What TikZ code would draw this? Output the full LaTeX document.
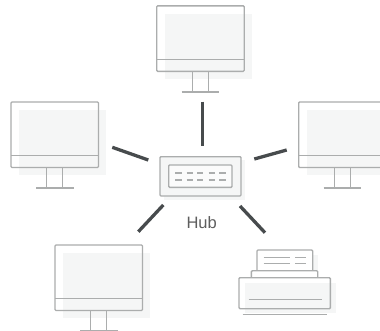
\documentclass[tikz,border=0pt]{standalone}
\usepackage{fontspec}
\setmainfont{Liberation Sans}
\definecolor{ln}{HTML}{ABADAD}
\definecolor{shade}{HTML}{F5F6F6}
\definecolor{link}{HTML}{474B4D}
\definecolor{txt}{HTML}{5E5E5E}
\tikzset{
  x=1pt,y=-1pt,
  outline/.style={draw=ln,line width=1.4pt,rounded corners=1pt},
  thin line/.style={draw=ln,line width=1.4pt},
  shadow/.style={fill=shade,draw=none},
  linkline/.style={draw=link,line width=3.3pt},
  monitor/.pic={
    % origin: top-left corner of the screen
    \fill[shadow] (8,8) rectangle (95,73);
    \draw[outline] (0,0) rectangle (87.5,65.5);
    \draw[thin line] (0,53.5) -- (87.5,53.5);
    \draw[thin line] (35.7,65.5) -- (35.7,86) (51.5,65.5) -- (51.5,86);
    \draw[thin line] (25,86) -- (62.5,86);
  }
}
\begin{document}
\begin{tikzpicture}
\useasboundingbox (0,0) rectangle (380,330);
\clip (0,0) rectangle (380,330);
\fill[white] (0,0) rectangle (380,330);
% monitors
\pic at (156.7,5.8) {monitor};
\pic at (11,102) {monitor};
\pic at (298.7,102) {monitor};
\pic at (55,245) {monitor};
% hub
\fill[shadow] (164,160) rectangle (245,200);
\draw[outline,fill=shade] (160,156.7) rectangle (241,196);
\draw[outline,fill=white!60!shade] (168.7,165) rectangle (232,187.3);
\foreach \yy in {172.7,179.7}
  \foreach \xx in {175.3,186.7,197,208.7,219.3}
    \draw[draw=ln,line width=2.4pt] (\xx,\yy) -- ++(6.4,0);
\node[text=txt,font=\fontsize{16.5}{16.5}\selectfont,inner sep=0pt] (hub) at (201.7,222.6) {Hub};
% printer
\fill[shadow] (245,283) rectangle (336,313);
\fill[shadow] (262,255) rectangle (318,271);
\draw[outline,fill=white] (257,270.7) -- (257,250) -- (312.7,250) -- (312.7,270.7);
\draw[thin line] (263.7,257.3) -- (290,257.3) (295.3,257.3) -- (305.7,257.3);
\draw[thin line] (263.7,263.3) -- (290,263.3) (295.3,263.3) -- (305.7,263.3);
\draw[outline] (251.3,277.7) -- (251.3,270.7) -- (317.7,270.7) -- (317.7,277.7);
\draw[outline] (239,277.7) rectangle (330.3,308.7);
\draw[thin line] (248.7,299.3) -- (322,299.3);
\draw[thin line] (242.7,314.7) -- (326.7,314.7);
% connectors
\coordinate (t1) at (202.3,101.7); \coordinate (t2) at (202.3,146);
\coordinate (l1) at (112.3,147.3); \coordinate (l2) at (148.3,160);
\coordinate (r1) at (286.7,150);   \coordinate (r2) at (254.3,159);
\coordinate (bl1) at (138.3,231.7); \coordinate (bl2) at (163.3,205);
\coordinate (br1) at (265,232.7);  \coordinate (br2) at (240,206);
\draw[linkline] (t1) -- (t2);
\draw[linkline] (l1) -- (l2);
\draw[linkline] (r1) -- (r2);
\draw[linkline] (bl1) -- (bl2);
\draw[linkline] (br1) -- (br2);
\end{tikzpicture}
\end{document}
